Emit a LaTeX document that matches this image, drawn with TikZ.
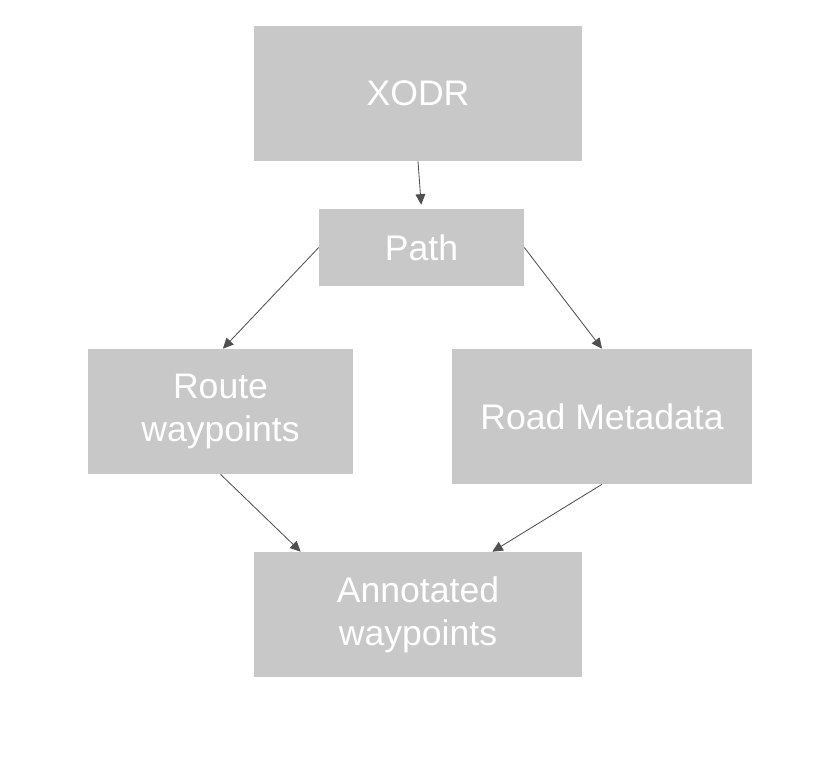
\documentclass[tikz,border=0pt]{standalone}
\usepackage{fontspec}
\setmainfont{Liberation Sans}
\usetikzlibrary{positioning,arrows.meta}

\definecolor{boxgray}{HTML}{C8C8C8}
\definecolor{linegray}{HTML}{505050}

\tikzset{
  block/.style={fill=boxgray, text=white, align=center, inner sep=0pt,
    font=\fontsize{25.3}{30.5}\selectfont},
  link/.style={draw=linegray, line width=0.6pt,
    -{Triangle[length=7.5pt,width=7pt]}}
}

\begin{document}
\begin{tikzpicture}[x=0.025cm, y=-0.025cm]
			\useasboundingbox (0,0) rectangle (817,769);
			\node (xodr)  [block, minimum width=8.2cm,   minimum height=3.375cm] at (418,93.5)   {XODR};
			\node (path)  [block, minimum width=5.125cm, minimum height=1.925cm] at (421.5,247.5) {Path};
			\node (route) [block, minimum width=6.625cm, minimum height=3.125cm] at (220.5,411.5) {Route\\waypoints};
			\node (meta)  [block, minimum width=7.5cm,   minimum height=3.375cm] at (602,416.5)   {Road Metadata};
			\node (annot) [block, minimum width=8.2cm,   minimum height=3.125cm] at (418,614.5)   {Annotated\\waypoints};
			
			\draw[link, shorten >=0.1cm] (xodr.south) -- (path.north);
			\draw[link] (path.west) -- ([xshift=0.06cm]route.north);
			\draw[link] (path.east) -- (meta.north);
			\draw[link] (route.south) -- ([xshift=1.175cm]annot.north west);
			\draw[link] (meta.south) -- ([xshift=-2.25cm]annot.north east);
		\end{tikzpicture}
\end{document}
